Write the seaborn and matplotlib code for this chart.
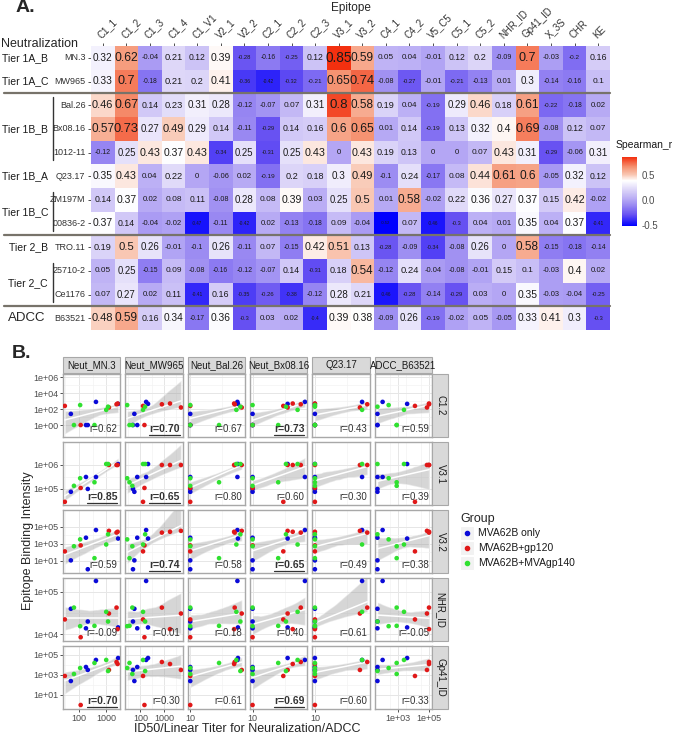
import matplotlib
matplotlib.use('Agg')
import matplotlib.pyplot as plt
from matplotlib.colors import LinearSegmentedColormap
from matplotlib.lines import Line2D
from matplotlib.patches import Rectangle
import numpy as np
import pandas as pd
import seaborn as sns
import warnings
warnings.filterwarnings('ignore')

# ---------------- panel A data ----------------
epitopes = ['C1_1', 'C1_2', 'C1_3', 'C1_4', 'C1_V1', 'V2_1', 'V2_2', 'C2_1', 'C2_2', 'C2_3', 'V3_1',
            'V3_2', 'C4_1', 'C4_2', 'V5_C5', 'C5_1', 'C5_2', 'NHR_ID', 'Gp41_ID', 'X_3S', 'CHR', 'KE']
strains = ['MN.3', 'MW965', 'Bal.26', 'Bx08.16', '1012-11', 'Q23.17', 'ZM197M', '00836-2',
           'TRO.11', '25710-2', 'Ce1176', 'B63521']
tier_names = ['Tier 1A_B', 'Tier 1A_C', 'Tier 1B_B', 'Tier 1B_A', 'Tier 1B_C', 'Tier 2_B', 'Tier 2_C', 'ADCC']
tier_sizes = [1, 1, 3, 1, 2, 1, 2, 1]

r_mn3 = [0.32, 0.62, -0.04, 0.21, 0.12, 0.39, -0.28, -0.16, -0.25, 0.12, 0.85, 0.59, 0.05, 0.04, -0.01, 0.12, 0.2, -0.09, 0.7, -0.03, -0.2, 0.16]
r_mw965 = [0.33, 0.7, -0.18, 0.21, 0.2, 0.41, -0.36, -0.42, -0.32, -0.21, 0.65, 0.74, -0.08, -0.27, -0.01, -0.21, -0.13, 0.01, 0.3, -0.14, -0.16, 0.1]
r_bal26 = [0.46, 0.67, 0.14, 0.23, 0.31, 0.28, -0.12, -0.07, 0.07, 0.31, 0.8, 0.58, 0.19, 0.04, -0.19, 0.29, 0.46, 0.18, 0.61, -0.22, -0.18, 0.02]
r_bx0816 = [0.57, 0.73, 0.27, 0.49, 0.29, 0.14, -0.11, -0.29, 0.14, 0.16, 0.6, 0.65, 0.01, 0.14, -0.19, 0.13, 0.32, 0.4, 0.69, -0.08, 0.12, 0.07]
r_1012 = [-0.12, 0.25, 0.43, 0.37, 0.43, -0.34, 0.25, -0.31, 0.25, 0.43, 0, 0.43, 0.19, 0.13, 0, 0, 0.07, 0.43, 0.31, -0.29, -0.06, 0.31]
r_q2317 = [0.35, 0.43, 0.04, 0.22, 0, -0.06, 0.02, -0.19, 0.2, 0.18, 0.3, 0.49, -0.1, 0.24, -0.17, 0.08, 0.44, 0.61, 0.6, -0.05, 0.32, 0.12]
r_zm197m = [0.14, 0.37, 0.02, 0.08, 0.11, -0.08, 0.28, 0.08, 0.39, 0.03, 0.25, 0.5, 0.01, 0.58, -0.02, 0.22, 0.36, 0.27, 0.37, 0.15, 0.42, -0.02]
r_00836 = [0.37, 0.14, -0.04, -0.02, -0.47, -0.11, -0.42, 0.02, -0.13, -0.18, 0.09, -0.04, -0.52, 0.07, -0.46, -0.3, 0.04, 0.01, 0.35, 0.04, 0.37, -0.41]
r_tro11 = [0.19, 0.5, 0.26, -0.01, -0.1, 0.26, -0.11, 0.07, -0.15, 0.42, 0.51, 0.13, -0.28, -0.09, -0.34, -0.08, 0.26, 0, 0.58, -0.15, -0.18, -0.14]
r_25710 = [0.05, 0.25, -0.15, 0.09, -0.08, -0.16, -0.12, -0.07, 0.14, -0.31, 0.18, 0.54, -0.12, 0.24, -0.04, -0.08, -0.01, 0.15, 0.1, -0.03, 0.4, 0.02]
r_ce1176 = [0.07, 0.27, 0.02, 0.11, -0.41, 0.16, -0.35, -0.26, -0.38, -0.12, 0.28, 0.21, -0.46, -0.28, -0.14, -0.29, 0.03, 0, 0.35, -0.03, -0.04, -0.25]
r_b63521 = [0.48, 0.59, 0.16, 0.34, -0.17, 0.36, -0.3, 0.03, 0.02, -0.4, 0.39, 0.38, -0.09, 0.26, -0.19, -0.02, 0.05, -0.05, 0.33, 0.41, 0.3, -0.3]

# ---------------- panel B data ----------------
groups = ['MVA62B only', 'MVA62B+gp120', 'MVA62B+MVAgp140']
group = [groups[0]] * 5 + [groups[1]] * 5 + [groups[2]] * 5
neut_mn3 = [50, 180, 210, 420, 2750, 30, 115, 2400, 2630, 1260, 65, 110, 370, 1000, 1170]
neut_mw965 = [56, 74, 49, 174, 209, 129, 148, 794, 1738, 5000, 46, 28, 35, 129, 158]
neut_bal26 = [10, 10, 10, 54, 55, 10, 10, 49, 48, 63, 10, 10, 28, 52, 60]
neut_bx0816 = [10, 10, 10, 65, 35, 30, 10, 56, 42, 35, 10, 10, 25, 50, 33]
q2317 = [10, 10, 10, 54, 10, 10, 10, 65, 10, 50, 10, 10, 10, 54, 10]
adcc_b63521 = [50, 50, 50, 107, 3980, 12600, np.nan, 100000, 100000, 74000, 850, 260, 850, 2500, 50]
bind_c12 = [25, 1, 1, 800, 450, 250, 1, 400, 500, 160, 1, 320, 1, 80, 200]
bind_v31 = [76000, 316000, 100000, 316000, 1100000, 29000, 110000, 1000000, 1000000, 1000000,
            135000, 280000, 190000, 1100000, 1100000]
bind_v32 = [11, 5000, 1, 40000, 4000, 125, 630, 20000, 25000, 32000, 500, 3200, 20, 800, 12600]
bind_nhr = [40000, 13800, 20000, 182000, 14500, 22400, 8500, 42700, 13200, 30900,
            42700, 15500, 15800, 33900, 20000]
bind_gp41 = [250, 6300, 3200, 32000, 50000, 800, 1, 20000, 12600, 3200, 1260, 5000, 16000, 32000, 2500]

assay_names = ['Neut_MN.3', 'Neut_MW965', 'Neut_Bal.26', 'Neut_Bx08.16', 'Q23.17', 'ADCC_B63521']
epi_names = ['C1.2', 'V3.1', 'V3.2', 'NHR_ID', 'Gp41_ID']
r_text = [[0.62, 0.70, 0.67, 0.73, 0.43, 0.59],
          [0.85, 0.65, 0.80, 0.60, 0.30, 0.39],
          [0.59, 0.74, 0.58, 0.65, 0.49, 0.38],
          [-0.09, 0.01, 0.18, 0.40, 0.61, -0.05],
          [0.70, 0.30, 0.61, 0.69, 0.60, 0.33]]
r_bold = [[0, 1, 0, 1, 0, 0],
          [1, 1, 0, 0, 0, 0],
          [0, 1, 0, 1, 0, 0],
          [0, 0, 0, 0, 0, 0],
          [1, 0, 0, 1, 0, 0]]

sns.set_style('white')
plt.rcParams['font.family'] = ['Liberation Sans', 'DejaVu Sans']

W, H = 683, 734
fig = plt.figure(figsize=(W / 100, H / 100), dpi=100)


def fr(x0, y0, x1, y1):
    return [x0 / W, 1 - y1 / H, (x1 - x0) / W, (y1 - y0) / H]


def ftext(x, y, s, **kw):
    fig.text(x / W, 1 - y / H, s, **kw)


def fline(xs, ys, **kw):
    fig.add_artist(Line2D([x / W for x in xs], [1 - y / H for y in ys], transform=fig.transFigure, **kw))


# ---------------- panel A ----------------
corr = pd.DataFrame([r_mn3, r_mw965, r_bal26, r_bx0816, r_1012, r_q2317, r_zm197m, r_00836,
                     r_tro11, r_25710, r_ce1176, r_b63521], index=strains, columns=epitopes)
vmin, vmax = -0.52, 0.85
stops = [(-0.52, '#0000ff'), (-0.3, '#6650f2'), (-0.1, '#9c8cf2'), (0.05, '#bfb3f5'),
         (0.2, '#dcd5f8'), (0.38, '#ffffff'), (0.5, '#f9c7b3'), (0.65, '#f59473'), (0.85, '#f3300f')]
cmap = LinearSegmentedColormap.from_list('spear', [((v - vmin) / (vmax - vmin), c) for v, c in stops])

ax = fig.add_axes(fr(91, 46, 610, 330))
cax = fig.add_axes(fr(622, 157, 637, 226))
sns.heatmap(corr, ax=ax, cmap=cmap, vmin=vmin, vmax=vmax, cbar_ax=cax,
            cbar_kws={'ticks': [-0.5, 0, 0.5]})
for i, s in enumerate(strains):
    for j, e in enumerate(epitopes):
        v = corr.loc[s, e]
        ax.text(j + 0.5, i + 0.5, f'{v:g}', ha='center', va='center',
                fontsize=max(3.0, 5.6 + 5 * v), color='#1a1a1a')
ax.xaxis.tick_top()
ax.set_xticks(np.arange(len(epitopes)) + 0.5)
ax.set_xticklabels(epitopes, rotation=45, ha='left', va='bottom', rotation_mode='anchor', fontsize=7)
ax.set_yticklabels(strains, rotation=0, fontsize=6.5)
ax.tick_params(top=True, left=True, bottom=False, length=2.5, width=0.6, color='#333333',
               labelcolor='#333333', pad=1.5)
ax.set_xlabel('')
ax.set_ylabel('')
cax.set_yticklabels(['-0.5', '0.0', '0.5'])
cax.tick_params(right=True, length=3, width=0.8, color='white', direction='in',
                labelsize=7, labelcolor='#4d4d4d', pad=3)
ftext(616, 150, 'Spearman_r', fontsize=7.5, va='bottom', color='#1a1a1a')

ftext(16, 8, 'A.', fontsize=14, fontweight='bold', va='center')
ftext(351, 8, 'Epitope', fontsize=8.5, ha='center', va='center')
ftext(1, 44, 'Neutralization', fontsize=9, va='center')

row_h = (330 - 46) / len(strains)
start = 0
for name, n in zip(tier_names, tier_sizes):
    yc = 46 + row_h * (start + n / 2)
    if name == 'ADCC':
        ftext(27, yc, name, fontsize=9.5, ha='center', va='center')
    else:
        ftext(48, yc, name, fontsize=7.5, ha='right', va='center', color='#1a1a1a')
    if n > 1:
        fline([53, 53], [46 + row_h * start + 4, 46 + row_h * (start + n) - 4], color='#333333', lw=1)
    start += n
for k in [2, 8, 11]:
    fline([4, 610], [46 + row_h * k] * 2, color='#77736a', lw=1.6)

# ---------------- panel B ----------------
subj = pd.DataFrame({'group': group, 'Neut_MN.3': neut_mn3, 'Neut_MW965': neut_mw965,
                     'Neut_Bal.26': neut_bal26, 'Neut_Bx08.16': neut_bx0816, 'Q23.17': q2317,
                     'ADCC_B63521': adcc_b63521, 'C1.2': bind_c12, 'V3.1': bind_v31,
                     'V3.2': bind_v32, 'NHR_ID': bind_nhr, 'Gp41_ID': bind_gp41})
palette = dict(zip(groups, ['#0a0ad8', '#e01818', '#30e030']))

xlims = [(1.41, 3.52), (1.37, 3.77), (0.96, 1.85), (0.96, 1.85), (0.96, 1.85), (1.52, 5.19)]
xticks = [[2, 3], [2, 3], [1], [1], [1], [3, 5]]
xlabs = [['100', '1000'], ['100', '1000'], ['10'], ['10'], ['10'], ['1e+03', '1e+05']]
ylims = [(-1.5, 6.4), (4.33, 6.96), (-0.44, 6.95), (3.84, 5.33), (-0.4, 5.9)]
yticks = [[0, 2, 4, 6], [5, 6], [1, 3, 5], [4, 5], [1, 3, 5]]

pw, ph, gap = 57.33, 63, 5
bold_texts = []
for r, epi in enumerate(epi_names):
    top = 374 + r * (ph + gap)
    for c, assay in enumerate(assay_names):
        left = 63 + c * (pw + gap)
        ax = fig.add_axes(fr(left, top, left + pw, top + ph))
        x = np.log10(subj[assay])
        y = np.log10(subj[epi])
        sns.regplot(x=x, y=y, ax=ax, scatter=False, ci=95, n_boot=500, seed=3, truncate=True,
                    color='white', line_kws={'lw': 1.1, 'zorder': 3})
        for coll in ax.collections:
            coll.set_facecolor('#9a9a9a')
            coll.set_alpha(0.4)
            coll.set_zorder(2)
        sns.scatterplot(x=x, y=y, hue=subj['group'], hue_order=groups, palette=palette, s=11,
                        linewidth=0, legend=False, ax=ax, zorder=4)
        lo, hi = xlims[c]
        xm = [t + 0.5 for t in range(int(np.floor(lo)), int(np.ceil(hi))) if lo < t + 0.5 < hi]
        ym = [(a + b) / 2 for a, b in zip(yticks[r][:-1], yticks[r][1:])]
        ax.set_xticks(xticks[c])
        ax.set_xticklabels(xlabs[c])
        ax.set_yticks(yticks[r])
        ax.set_yticklabels([f'1e+{t:02d}' for t in yticks[r]])
        ax.set_xticks(xm, minor=True)
        ax.set_yticks(ym, minor=True)
        ax.set_xlim(lo, hi)
        ax.set_ylim(*ylims[r])
        ax.set_axisbelow(True)
        ax.grid(True, which='major', color='#e6e6e6', lw=0.7)
        ax.grid(True, which='minor', color='#f3f3f3', lw=0.5)
        ax.tick_params(which='minor', length=0)
        ax.tick_params(which='major', left=(c == 0), bottom=(r == 4), labelleft=(c == 0),
                       labelbottom=(r == 4), length=2, width=0.6, color='#333333',
                       labelsize=6.5, labelcolor='#4d4d4d', pad=1.5)
        ax.set_xlabel('')
        ax.set_ylabel('')
        for sp in ax.spines.values():
            sp.set_color('#a8a8a8')
            sp.set_linewidth(1.0)
        b = bool(r_bold[r][c])
        t = ax.text(0.95, 0.04, f'r={r_text[r][c]:.2f}', transform=ax.transAxes, ha='right',
                    va='bottom', fontsize=7.5 if b else 7, fontweight='bold' if b else 'normal',
                    color='#333333', zorder=5)
        if b:
            bold_texts.append(t)
        if r == 0:
            fig.add_artist(Rectangle((left / W, 1 - 373 / H), pw / W, 16 / H, transform=fig.transFigure,
                                     facecolor='#d9d9d9', edgecolor='#a8a8a8', lw=0.8))
            ftext(left + pw / 2, 365, assay, fontsize=7, ha='center', va='center', color='#1a1a1a')
    x0 = 63 + 6 * (pw + gap) - gap + 0.5
    fig.add_artist(Rectangle((x0 / W, 1 - (top + ph) / H), 16 / W, ph / H, transform=fig.transFigure,
                             facecolor='#d9d9d9', edgecolor='#a8a8a8', lw=0.8))
    ftext(x0 + 8, top + ph / 2, epi, fontsize=7, ha='center', va='center', rotation=-90, color='#1a1a1a')

ftext(12, 353, 'B.', fontsize=14, fontweight='bold', va='center')
ftext(28, 541, 'Epitope Binding Intensity', fontsize=9, rotation=90, ha='center', va='center')
ftext(247, 729, 'ID50/Linear Titer for Neuralization/ADCC', fontsize=9, ha='center', va='center')

# legend
ftext(460, 519, 'Group', fontsize=9, va='center')
for k, g in enumerate(groups):
    yk = 533 + 15 * k
    fig.add_artist(Rectangle((460 / W, 1 - (yk + 7) / H), 14 / W, 14 / H, transform=fig.transFigure,
                             facecolor='#f2f2f2', edgecolor='white', lw=0.8))
    fig.add_artist(Line2D([467 / W], [1 - yk / H], transform=fig.transFigure, marker='o', ms=3,
                          color=palette[g], lw=0))
    ftext(478, yk, g, fontsize=7.5, va='center', color='#1a1a1a')

# underline the bold r values
fig.canvas.draw()
rend = fig.canvas.get_renderer()
for t in bold_texts:
    bb = t.get_window_extent(rend)
    fig.add_artist(Line2D([bb.x0 / W, bb.x1 / W], [(bb.y0 - 0.5) / H] * 2, transform=fig.transFigure,
                          color='#333333', lw=0.9))

fig.savefig('out.png', dpi=100)
